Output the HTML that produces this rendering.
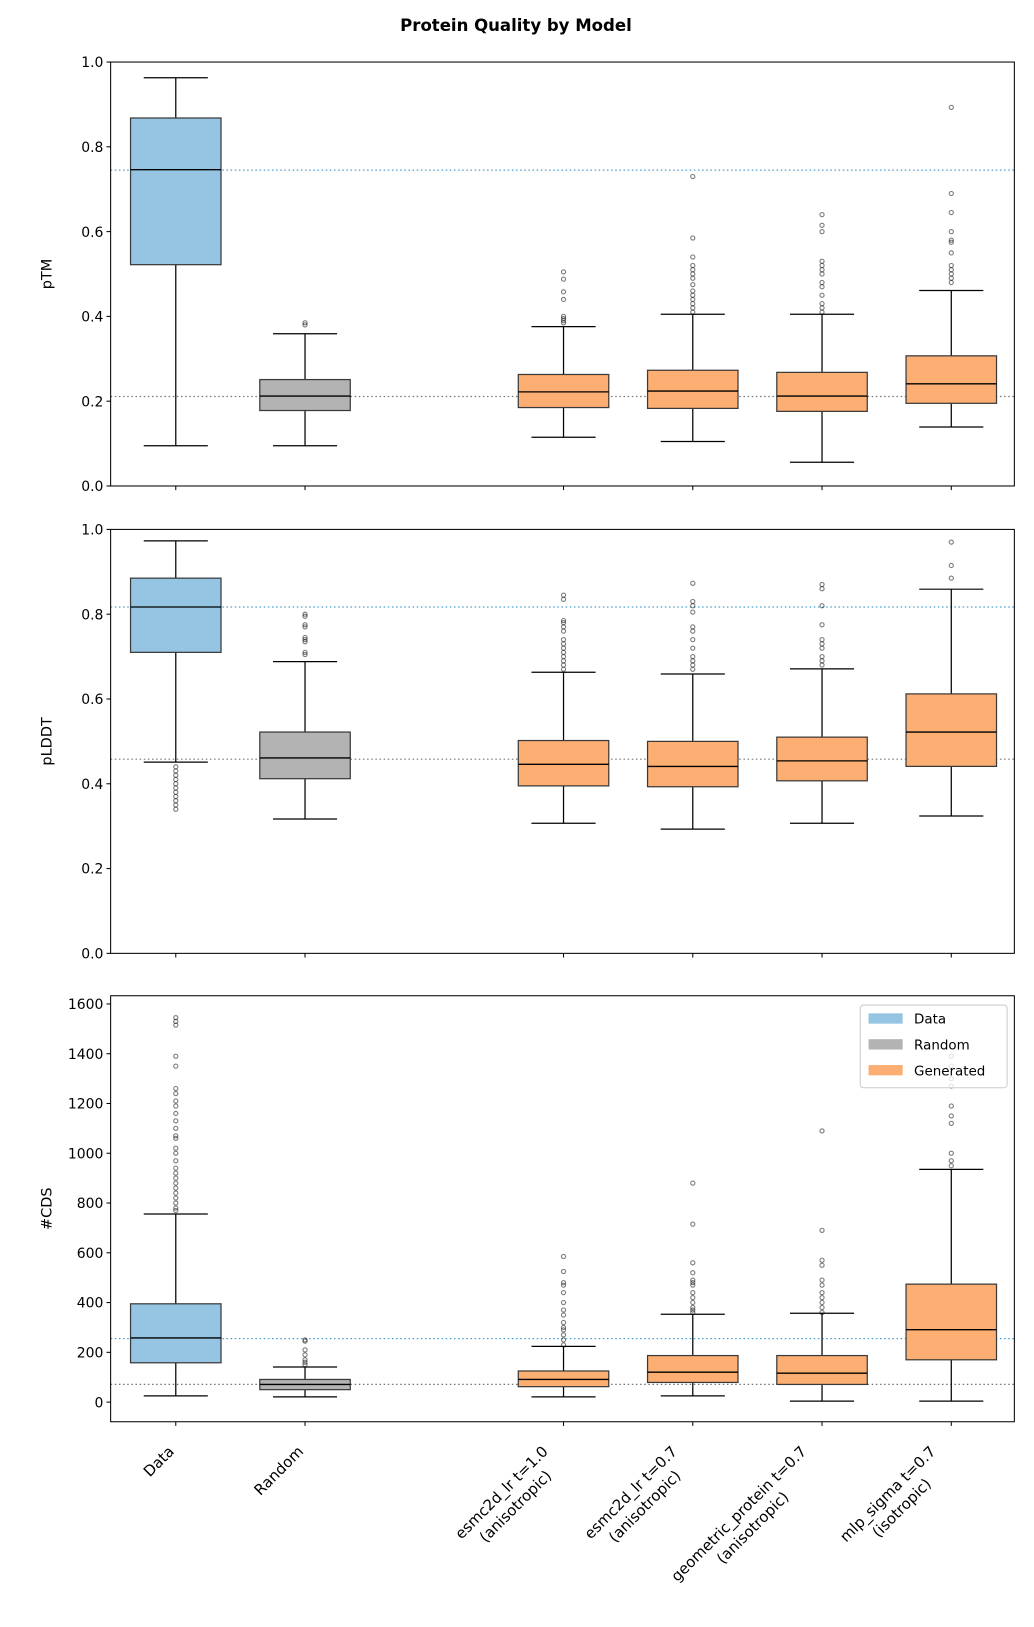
<!DOCTYPE html>
<html><head><meta charset="utf-8"><style>
html,body{margin:0;padding:0;background:#fff}
svg{display:block;font-family:"DejaVu Sans","Liberation Sans",sans-serif}
</style></head><body>
<svg id="chart" width="1034" height="1627" viewBox="0 0 1000 1573.5" xmlns="http://www.w3.org/2000/svg">
<text x="499" y="30" text-anchor="middle" font-size="16" font-weight="bold">Protein Quality by Model</text>
</svg>
<script>
const categories = ["Data","Random","esmc2d_lr t=1.0\n(anisotropic)","esmc2d_lr t=0.7\n(anisotropic)","geometric_protein t=0.7\n(anisotropic)","mlp_sigma t=0.7\n(isotropic)"];
const positions = [0,1,3,4,5,6];
const groups = ["Data","Random","Generated","Generated","Generated","Generated"];
// [lo, q1, med, q3, hi]
const ptmStats = [[0.095,0.522,0.746,0.868,0.963],[0.095,0.178,0.212,0.251,0.359],[0.115,0.185,0.222,0.263,0.376],[0.105,0.183,0.224,0.273,0.405],[0.056,0.176,0.212,0.268,0.405],[0.139,0.195,0.241,0.307,0.461]];
const ptmOutliers = [[],[0.385,0.38],[0.505,0.488,0.458,0.44,0.4,0.395,0.39,0.385],[0.73,0.585,0.54,0.52,0.51,0.5,0.49,0.475,0.46,0.45,0.44,0.43,0.42,0.41],[0.64,0.615,0.6,0.53,0.52,0.51,0.5,0.48,0.47,0.45,0.43,0.42,0.41],[0.893,0.69,0.645,0.6,0.58,0.575,0.55,0.52,0.51,0.5,0.49,0.48]];
const plddtStats = [[0.451,0.710,0.817,0.885,0.973],[0.317,0.412,0.461,0.522,0.688],[0.307,0.395,0.446,0.502,0.663],[0.293,0.393,0.441,0.5,0.659],[0.307,0.407,0.454,0.51,0.671],[0.324,0.441,0.522,0.612,0.859]];
const plddtOutliers = [[0.44,0.43,0.42,0.41,0.40,0.39,0.38,0.37,0.36,0.35,0.34],[0.8,0.795,0.775,0.77,0.745,0.74,0.735,0.71,0.705],[0.845,0.835,0.785,0.78,0.77,0.76,0.74,0.73,0.72,0.71,0.70,0.69,0.68,0.67],[0.873,0.83,0.82,0.805,0.77,0.76,0.74,0.72,0.70,0.69,0.68,0.67],[0.87,0.86,0.82,0.775,0.74,0.73,0.72,0.70,0.69,0.68],[0.97,0.915,0.885]];
const cdsStats = [[25,158,258,395,756],[21,50,71,91,141],[21,62,91,125,224],[25,79,120,187,353],[4,71,116,187,357],[4,170,291,474,935]];
const cdsOutliers = [[1545,1530,1515,1390,1350,1260,1240,1210,1190,1160,1130,1100,1070,1060,1020,1000,970,940,920,900,880,860,840,820,800,780,770],[150,160,170,190,210,245,250],[230,250,270,290,300,320,350,370,400,440,470,480,525,585],[360,370,380,400,420,440,470,480,490,520,560,715,880],[360,380,400,420,440,470,490,550,570,690,1090],[950,970,1000,1120,1150,1190,1270,1300,1350,1390]];
const ptmRefs = [0.745,0.211];
const plddtRefs = [0.817,0.458];
const cdsRefs = [255,71];
const unitTicks = [0,0.2,0.4,0.6,0.8,1.0];
const unitTickLabels = ["0.0","0.2","0.4","0.6","0.8","1.0"];
const cdsTicks = [0,200,400,600,800,1000,1200,1400,1600];
const cdsTickLabels = ["0","200","400","600","800","1000","1200","1400","1600"];

const NS="http://www.w3.org/2000/svg";
const svg=document.getElementById('chart');
const fills={Data:"#95c5e2",Random:"#b3b3b3",Generated:"#fdae72"};
const L=107,R=981;
const xScale=p=>170+p*125;
function mk(tag,attrs,parent){const e=document.createElementNS(NS,tag);for(const k in attrs)e.setAttribute(k,attrs[k]);(parent||svg).appendChild(e);return e;}

const panels=[
 {name:"ptm",label:"pTM",top:60,bot:470,min:0,max:1,stats:ptmStats,out:ptmOutliers,refs:ptmRefs,ticks:unitTicks,tl:unitTickLabels},
 {name:"plddt",label:"pLDDT",top:512,bot:922,min:0,max:1,stats:plddtStats,out:plddtOutliers,refs:plddtRefs,ticks:unitTicks,tl:unitTickLabels},
 {name:"cds",label:"#CDS",top:963,bot:1375,min:-79,max:1633,stats:cdsStats,out:cdsOutliers,refs:cdsRefs,ticks:cdsTicks,tl:cdsTickLabels}
];
panels.forEach(P=>{
  const g=mk('g',{});
  
  
  const y=v=>P.bot-(v-P.min)/(P.max-P.min)*(P.bot-P.top);
  P.refs.forEach((r,i)=>{
    const l=mk('line',{x1:L,x2:R,y1:y(r),y2:y(r),stroke:i==0?"#4d9fcf":"#777","stroke-width":1.2,"stroke-dasharray":"1.5,2.5"},g);
    
    
  });
  P.stats.forEach((s,i)=>{
    const cx=xScale(positions[i]),hw=43.75,cw=31;
    const bg=mk('g',{},g);
    
    
    mk('line',{x1:cx,x2:cx,y1:y(s[0]),y2:y(s[1]),stroke:"#000","stroke-width":1.2},bg);
    mk('line',{x1:cx,x2:cx,y1:y(s[3]),y2:y(s[4]),stroke:"#000","stroke-width":1.2},bg);
    mk('line',{x1:cx-cw,x2:cx+cw,y1:y(s[0]),y2:y(s[0]),stroke:"#000","stroke-width":1.2},bg);
    mk('line',{x1:cx-cw,x2:cx+cw,y1:y(s[4]),y2:y(s[4]),stroke:"#000","stroke-width":1.2},bg);
    mk('rect',{x:cx-hw,y:y(s[3]),width:2*hw,height:y(s[1])-y(s[3]),fill:fills[groups[i]],stroke:"#3a3a3a","stroke-width":1.2},bg);
    mk('line',{x1:cx-hw,x2:cx+hw,y1:y(s[2]),y2:y(s[2]),stroke:"#000","stroke-width":1.3},bg);
    P.out[i].forEach(o=>{
      const c=mk('circle',{cx:cx,cy:y(o),r:2,fill:"none",stroke:"#000","stroke-opacity":0.5,"stroke-width":1.1},bg);
      
      
    });
  });
  mk('rect',{x:L,y:P.top,width:R-L,height:P.bot-P.top,fill:"none",stroke:"#000","stroke-width":1},g);
  P.ticks.forEach((t,i)=>{
    mk('line',{x1:L-4,x2:L,y1:y(t),y2:y(t),stroke:"#000"},g);
    const tx=mk('text',{x:L-7,y:y(t)+5,"text-anchor":"end","font-size":13.5},g);
    tx.textContent=P.tl[i];
    
    
  });
  positions.forEach(p=>mk('line',{x1:xScale(p),x2:xScale(p),y1:P.bot,y2:P.bot+4,stroke:"#000"},g));
  const yl=mk('text',{x:0,y:0,"text-anchor":"middle","font-size":14,transform:`translate(50,${(P.top+P.bot)/2}) rotate(-90)`},g);
  yl.textContent=P.label;
  
  
});
const SC=1034/1000;
categories.forEach((c,i)=>{
  const tick=xScale(positions[i]);
  const g=mk('g',{transform:`translate(${tick},1390) rotate(-45)`});
  
  
  const lines=c.split("\n");
  const ts=lines.map((ln,k)=>{const t=mk('text',{x:0,y:11+k*19,"text-anchor":"end","font-size":14.5},g);t.textContent=ln;return t;});
  if(ts.length>1){
    const w=ts.map(t=>t.getComputedTextLength());const mw=Math.max(...w);
    ts.forEach((t,k)=>t.setAttribute('x',-(mw-w[k])/2));
  }
  const sr=svg.getBoundingClientRect();
  const b=g.getBoundingClientRect();
  const right=(b.right-sr.left)/SC, top=(b.top-sr.top)/SC;
  const dx=(tick+2)-right, dy=1395-top;
  g.setAttribute('transform',`translate(${tick+dx},${1390+dy}) rotate(-45)`);
});
const lg=mk('g',{});


mk('rect',{x:832,y:972,width:142,height:80,rx:3,fill:"#fff","fill-opacity":0.8,stroke:"#ccc"},lg);
["Data","Random","Generated"].forEach((n,i)=>{
  const e=mk('g',{},lg);
  
  
  mk('rect',{x:840,y:980+i*25,width:33,height:10,fill:fills[n]},e);
  const t=mk('text',{x:884,y:990+i*25,"font-size":13},e);t.textContent=n;
});
</script>
</body></html>
